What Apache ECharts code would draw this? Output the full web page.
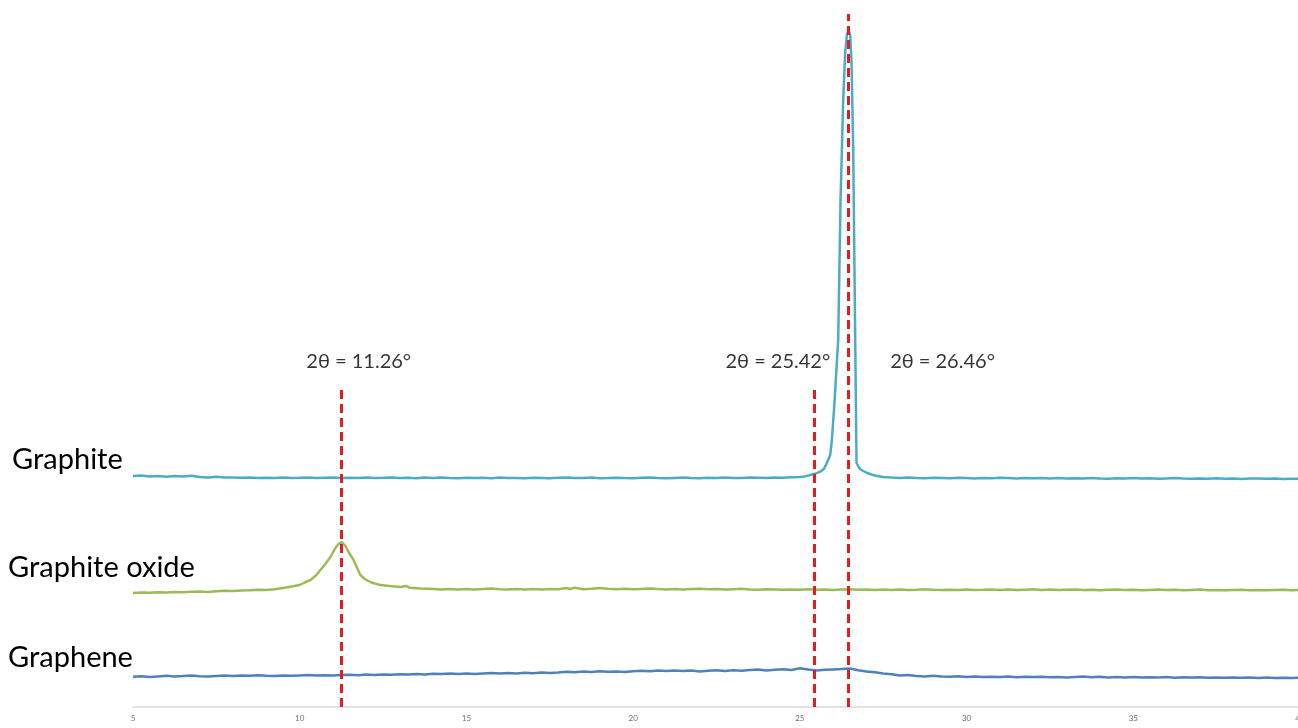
<!DOCTYPE html>
<html>
<head>
<meta charset="utf-8">
<title>XRD patterns</title>
<script src="https://cdn.jsdelivr.net/npm/echarts@6/dist/echarts.min.js"></script>
<style>
  html, body { margin: 0; padding: 0; background: #ffffff; }
  #chart { width: 1298px; height: 728px; }
</style>
</head>
<body>
<div id="chart"></div>
<script>
// X-ray diffraction patterns, 2θ (degrees) vs. intensity (a.u., traces offset vertically)
const xTicks = [5, 10, 15, 20, 25, 30, 35, 40];

const sampleNames = ['Graphite', 'Graphite oxide', 'Graphene'];

const graphite = [
  [5,231],[5.25,231.6],[5.5,230.5],[5.75,231.1],[6,230.2],[6.25,231],[6.5,230.4],[6.75,231.2],
  [7,230],[7.25,229.5],[7.5,230.2],[7.75,229.6],[8,229.5],[8.25,229.2],[8.5,229.4],[8.75,229],
  [9,229.3],[9.25,229],[9.5,229.5],[9.75,229],[10,229.2],[10.25,229.6],[10.5,229],[10.75,229.2],
  [11,229.4],[11.25,229],[11.5,229.3],[11.75,229.1],[12,229.5],[12.25,228.9],[12.5,229.2],[12.75,229.6],
  [13,229],[13.25,229.3],[13.5,228.8],[13.75,229.4],[14,229.1],[14.25,229.5],[14.5,229],[14.75,228.7],
  [15,229.3],[15.25,229],[15.5,229.2],[15.75,228.8],[16,229.4],[16.25,229],[16.5,229.1],[16.75,228.8],
  [17,229.3],[17.25,229],[17.5,228.7],[17.75,229.2],[18,229.5],[18.25,228.9],[18.5,229.1],[18.75,229.4],
  [19,228.8],[19.25,229],[19.5,229.3],[19.75,229],[20,228.8],[20.25,229.2],[20.5,229.5],[20.75,229],
  [21,228.7],[21.25,229.1],[21.5,229.4],[21.75,229],[22,228.8],[22.25,229.3],[22.5,229],[22.75,229.5],
  [23,229.1],[23.25,228.9],[23.5,229.4],[23.75,229.2],[24,229],[24.25,229.5],[24.5,229.3],[24.75,229.8],
  [25,230],[25.15,230.6],[25.31,232],[25.45,233.2],[25.61,235.3],[25.72,238],[25.81,244],[25.91,252],
  [25.96,267],[26.03,300],[26.09,334],[26.15,367],[26.22,507],[26.3,607],[26.36,655],[26.41,672],
  [26.46,677],[26.51,672],[26.55,645],[26.6,560],[26.66,367],[26.7,244],[26.8,238],[26.9,236],
  [27.02,234],[27.17,232.2],[27.32,231],[27.5,230],[27.75,229.4],[28,229.1],[28.25,229.5],[28.5,229],
  [28.75,228.8],[29,229.3],
  [29.25,229],[29.5,228.7],[29.75,229.2],[30,229],[30.25,228.6],[30.5,229.1],[30.75,228.8],[31,229.2],
  [31.25,228.9],[31.5,228.5],[31.75,229],[32,228.7],[32.25,229.1],[32.5,228.6],[32.75,228.9],[33,228.4],
  [33.25,228.8],[33.5,228.6],[33.75,229],[34,228.5],[34.25,228.3],[34.5,228.8],[34.75,228.5],[35,228.9],
  [35.25,228.4],[35.5,228.7],[35.75,228.3],[36,228.6],[36.25,228.9],[36.5,228.4],[36.75,228.2],[37,228.6],
  [37.25,228.3],[37.5,228.7],[37.75,228.2],[38,228.5],[38.25,228.1],[38.5,228.4],[38.75,228.6],[39,228.2],
  [39.25,228.4],[39.5,228],[39.75,228.3],[40,228.1]
];

const graphiteOxide = [
  [5,114],[5.25,114.5],[5.5,114.2],[5.75,114.8],[6,114.5],[6.25,115],[6.5,114.7],[6.75,115.2],
  [7,115.5],[7.25,115.1],[7.5,115.8],[7.75,116.2],[8,116],[8.25,116.6],[8.5,116.8],[8.75,117.2],
  [9,117],[9.25,117.8],[9.5,119],[9.75,120.5],[10,122],[10.15,124.5],[10.32,127],[10.47,131],
  [10.62,137],[10.77,143],[10.92,150],[11.07,159],[11.15,162.5],[11.26,165],[11.37,161],[11.45,156],
  [11.52,152],[11.6,148],[11.67,143],[11.75,137],[11.82,132],[11.95,128],[12.12,125],[12.25,123.5],
  [12.42,122],[12.7,121],[13.02,120],[13.2,121],[13.3,119.2],[13.62,118.5],[14,118],[14.25,117.4],
  [14.5,117.9],[14.75,117.5],[15,118],[15.25,117.6],[15.5,117.9],[15.75,118.4],[16,117.8],[16.25,117.5],
  [16.5,118],[16.75,117.6],[17,117.9],[17.25,117.4],[17.5,118.1],[17.75,117.7],[18,119],[18.1,118],
  [18.25,119.2],[18.5,117.8],[18.75,118.2],[19,119],[19.25,118.3],[19.5,117.8],[19.75,118.2],[20,117.7],
  [20.25,118.1],[20.5,118.5],[20.75,117.9],[21,117.6],[21.25,118],[21.5,117.5],[21.75,117.9],[22,118.3],
  [22.25,117.7],[22.5,118],[22.75,117.4],[23,117.8],[23.25,118.2],[23.5,117.6],[23.75,117.3],[24,117.8],
  [24.25,117.5],[24.5,117.2],[24.75,117.6],[25,117.3],[25.25,117.7],[25.5,117.2],[25.75,117.5],[26,117],
  [26.25,117.4],[26.5,117.8],[26.75,117.2],[27,117.5],[27.25,117],[27.5,117.4],[27.75,117.1],[28,117.5],
  [28.25,117],[28.5,117.3],[28.75,117.7],[29,117.2],[29.25,116.9],[29.5,117.3],[29.75,117],[30,117.4],
  [30.25,116.9],[30.5,117.2],[30.75,117.6],[31,117.1],[31.25,117.4],[31.5,116.9],[31.75,117.3],[32,117.7],
  [32.25,117.1],[32.5,117.4],[32.75,116.9],[33,117.2],[33.25,117.5],[33.5,117],[33.75,117.3],[34,116.8],
  [34.25,117.2],[34.5,117.6],[34.75,117],[35,117.3],[35.25,116.8],[35.5,117.1],[35.75,117.4],[36,116.9],
  [36.25,117.2],[36.5,116.7],[36.75,117.1],[37,117.4],[37.25,116.8],[37.5,117.1],[37.75,116.7],[38,117],
  [38.25,117.3],[38.5,116.8],[38.75,117.1],[39,116.7],[39.25,117],[39.5,117.3],[39.75,116.8],[40,117]
];

const graphene = [
  [5,30.3],[5.25,30.8],[5.5,30],[5.75,30.6],[6,31.2],[6.25,30.5],[6.5,30.9],[6.75,31.4],
  [7,30.8],[7.25,30.4],[7.5,31],[7.75,31.5],[8,31],[8.25,31.6],[8.5,31.2],[8.75,31.8],
  [9,31.3],[9.25,31],[9.5,31.5],[9.75,31.2],[10,31.6],[10.25,31.9],[10.5,31.4],[10.75,31.8],
  [11,31.5],[11.25,31.9],[11.5,32.3],[11.75,31.8],[12,32.4],[12.25,32],[12.5,32.6],[12.75,32.2],
  [13,32.8],[13.25,32.4],[13.5,33],[13.75,32.6],[14,33.2],[14.25,32.9],[14.5,33.4],[14.75,33],
  [15,33.6],[15.25,33.1],[15.5,33.5],[15.75,33.9],[16,33.4],[16.25,34],[16.5,33.6],[16.75,34.3],
  [17,33.8],[17.25,34.5],[17.5,34],[17.75,34.6],[18,35.3],[18.25,34.7],[18.5,35.4],[18.75,35],
  [19,35.8],[19.25,35.2],[19.5,35.6],[19.75,35],[20,35.7],[20.25,36.3],[20.5,35.8],[20.75,36.5],
  [21,36],[21.25,36.6],[21.5,35.9],[21.75,36.4],[22,35.5],[22.25,36.2],[22.5,36.8],[22.75,36.1],
  [23,36.7],[23.25,36.2],[23.5,36.9],[23.75,37.4],[24,36.6],[24.25,37.2],[24.5,37.8],[24.75,37],
  [25,38.8],[25.25,37.5],[25.5,36.4],[25.75,37.2],[26,37.6],[26.25,38],[26.5,38.5],[26.75,36.8],
  [27,35.6],[27.25,34.8],[27.5,33.5],[27.75,32.8],[28,31.6],[28.25,31.9],[28.5,31],[28.75,30.6],
  [29,31.2],[29.25,30.5],[29.5,30.2],[29.75,30.7],[30,30.1],[30.25,30.5],[30.5,29.9],[30.75,30.3],
  [31,30],[31.25,30.4],[31.5,29.8],[31.75,30.2],[32,29.9],[32.25,30.3],[32.5,29.7],[32.75,30.1],
  [33,29.6],[33.25,30],[33.5,30.4],[33.75,29.8],[34,30.2],[34.25,29.5],[34.5,29.9],[34.75,29.6],
  [35,30.1],[35.25,29.4],[35.5,29.8],[35.75,29.5],[36,29.9],[36.25,29.3],[36.5,29.7],[36.75,29.4],
  [37,29.8],[37.25,29.3],[37.5,29.6],[37.75,29.2],[38,29.6],[38.25,29.2],[38.5,29.5],[38.75,29.1],
  [39,29.4],[39.25,29],[39.5,29.3],[39.75,29.1],[40,29.2]
];

// Reflection positions (2θ) and the height each dashed guide reaches
const peakPositions = [11.26, 25.42, 26.46];
const guideTops = [322, 322, 693];
const peakLabelHeight = 345;

const colors = {
  graphite: '#4bacc6',
  oxide: '#9bbb59',
  graphene: '#4f81bd',
  guide: '#e41b1f'
};

const fontStack = 'Lato, "Noto Sans", sans-serif';

const chart = echarts.init(document.getElementById('chart'), null, { renderer: 'canvas' });

const labelOffsets = [[17, 0], [-36, 0], [94, 0]];

const annotationData = peakPositions.map((p, i) => ({
  value: [p, peakLabelHeight],
  label: { offset: labelOffsets[i] }
}));

const guideLines = peakPositions.map((p, i) => [
  { coord: [p, 0] },
  { coord: [p, guideTops[i]] }
]);

const lineStyleFor = (c) => ({ color: c, width: 2.5 });

// sample names sit left of the plot, next to the start of each trace
const nameRows = [460, 568, 658];
const nameLefts = [12, 8, 8];

chart.setOption({
  animation: false,
  backgroundColor: '#ffffff',
  grid: { left: 133, right: -2, top: 7, bottom: 21, containLabel: false, outerBoundsMode: 'none' },
  xAxis: {
    type: 'value',
    min: xTicks[0],
    max: xTicks[xTicks.length - 1],
    interval: 5,
    axisLine: { show: true, lineStyle: { color: '#d9d9d9', width: 1.5 } },
    axisTick: { show: false },
    splitLine: { show: false },
    axisLabel: {
      color: '#6f6f6f',
      fontSize: 8,
      fontFamily: fontStack,
      margin: 7
    }
  },
  yAxis: {
    type: 'value',
    min: 0,
    max: 700,
    show: false
  },
  series: [
    {
      name: sampleNames[0],
      type: 'line',
      data: graphite,
      showSymbol: false,
      lineStyle: lineStyleFor(colors.graphite),
      itemStyle: { color: colors.graphite },
      z: 2
    },
    {
      name: sampleNames[1],
      type: 'line',
      data: graphiteOxide,
      showSymbol: false,
      lineStyle: lineStyleFor(colors.oxide),
      itemStyle: { color: colors.oxide },
      z: 2
    },
    {
      name: sampleNames[2],
      type: 'line',
      data: graphene,
      showSymbol: false,
      lineStyle: lineStyleFor(colors.graphene),
      itemStyle: { color: colors.graphene },
      z: 2
    },
    {
      name: 'peaks',
      type: 'scatter',
      symbolSize: 0,
      data: annotationData,
      z: 5,
      label: {
        show: true,
        position: 'inside',
        formatter: (p) => '2θ = ' + p.value[0].toFixed(2) + '°',
        color: '#000000',
        fontSize: 20,
        fontFamily: fontStack
      },
      markLine: {
        silent: true,
        symbol: ['none', 'none'],
        label: { show: false },
        lineStyle: { color: colors.guide, width: 3, type: [9, 5], opacity: 1 },
        data: guideLines,
        z: 6
      }
    }
  ],
  graphic: sampleNames.map((name, i) => ({
    type: 'text',
    x: nameLefts[i],
    y: nameRows[i],
    style: {
      text: name,
      fill: '#000000',
      fontSize: 29,
      fontFamily: fontStack,
      verticalAlign: 'middle',
      align: 'left'
    }
  }))
});
</script>
</body>
</html>
